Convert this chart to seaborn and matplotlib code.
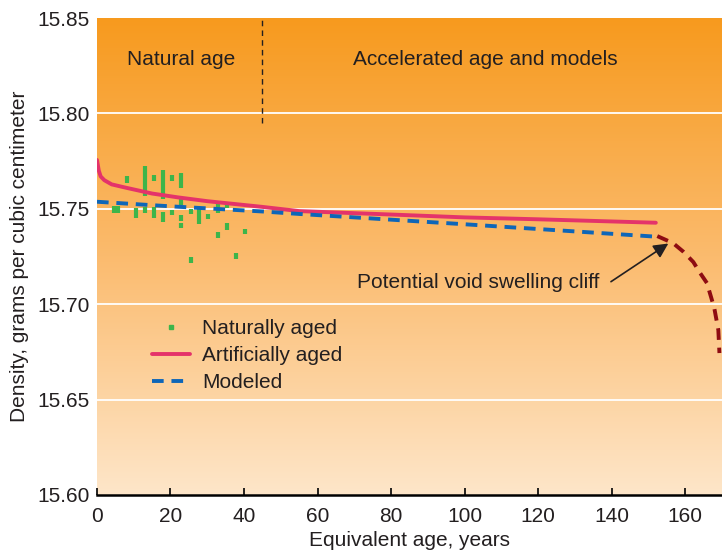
import numpy as np
import pandas as pd
import seaborn as sns
import matplotlib.pyplot as plt
from matplotlib.colors import LinearSegmentedColormap
from matplotlib.lines import Line2D

# ---------------------------------------------------------------
# Data
# ---------------------------------------------------------------
# naturally aged samples: vertical bars (age, low density, high density)
naturalAge = [4.6, 5.8, 8.1, 10.5, 13.1, 13.1, 15.5, 15.5, 18.0, 18.0, 20.3, 20.3,
              22.9, 22.9, 22.9, 22.9, 25.5, 25.5, 27.8, 30.2, 32.8, 32.8, 35.3, 35.3,
              37.7, 40.3]
naturalLow = [15.748, 15.748, 15.7635, 15.7452, 15.7567, 15.7478, 15.7646, 15.7452,
              15.7551, 15.7431, 15.7646, 15.7468, 15.7609, 15.7520, 15.7436, 15.7399,
              15.7473, 15.7216, 15.7420, 15.7447, 15.7478, 15.7347, 15.7504, 15.7389,
              15.7237, 15.7368]
naturalHigh = [15.7515, 15.7515, 15.7672, 15.7504, 15.7724, 15.7509, 15.7677, 15.7509,
               15.7703, 15.7483, 15.7677, 15.7494, 15.7688, 15.7557, 15.7468, 15.7426,
               15.7499, 15.7247, 15.7509, 15.7473, 15.7536, 15.7378, 15.7525, 15.7426,
               15.7268, 15.7394]

# artificially aged curve
artificialAge = [0, 0.5, 1, 2, 4, 8, 15, 22, 30, 45, 55, 80, 100, 120, 152]
artificialDensity = [15.7756, 15.770, 15.767, 15.765, 15.7628, 15.761, 15.758, 15.756,
                     15.754, 15.751, 15.7488, 15.747, 15.7455, 15.7445, 15.7427]

# modeled curve
modeledAge = [0, 20, 45, 55, 100, 152]
modeledDensity = [15.7537, 15.7513, 15.7486, 15.7473, 15.7419, 15.7354]

# potential void swelling cliff
cliffAge = [152.4, 156.7, 159.5, 162.2, 164.1, 165.9, 167.9, 169.0, 169.3]
cliffDensity = [15.7357, 15.7320, 15.7275, 15.7221, 15.7162, 15.7111, 15.6980, 15.6865, 15.6744]

yTicks = [15.60, 15.65, 15.70, 15.75, 15.80, 15.85]
xTicks = [0, 20, 40, 60, 80, 100, 120, 140, 160]

pinkColor = '#E4336A'
blueColor = '#0E66B8'
cliffColor = '#8E0C12'
greenColor = '#3DB54A'
textColor = '#231F20'
fontSize = 15

##################################################################
# Figure setup
##################################################################
sns.set_theme(style='white')
plt.rcParams['font.family'] = ['Liberation Sans', 'DejaVu Sans']
plt.rcParams['text.color'] = textColor

fig = plt.figure(figsize=(7.22, 5.54), dpi=100)
ax = fig.add_axes([0.1343, 0.1065, 0.8657, 0.861])
ax.set_xlim(0, 170)
ax.set_ylim(15.60, 15.85)

# orange gradient background
gradientMap = LinearSegmentedColormap.from_list(
    'bg', [(0.0, '#FEE6C9'), (0.5, '#FBBB6E'), (1.0, '#F79A1E')])
gradient = np.linspace(0, 1, 256).reshape(-1, 1)
ax.imshow(gradient, extent=[0, 170, 15.60, 15.85], origin='lower', aspect='auto',
          cmap=gradientMap, zorder=0)

# white horizontal gridlines
for level in yTicks[1:-1]:
    ax.axhline(level, color='white', lw=1.3, zorder=1)

# region separator and labels
ax.vlines(45, 15.795, 15.85, colors=textColor, linestyles=(0, (4, 3)), lw=1, zorder=2)
ax.text(23, 15.8285, 'Natural age', ha='center', va='center', fontsize=fontSize)
ax.text(105.6, 15.8285, 'Accelerated age and models', ha='center', va='center',
        fontsize=fontSize)

##################################################################
# Data marks
##################################################################
ax.vlines(naturalAge, naturalLow, naturalHigh, colors=greenColor, lw=3, zorder=3)

sns.lineplot(x=artificialAge, y=artificialDensity, ax=ax, color=pinkColor, lw=2.8,
             zorder=4)
sns.lineplot(x=modeledAge, y=modeledDensity, ax=ax, color=blueColor, lw=2.8,
             linestyle=(0, (3, 2)), zorder=5)
sns.lineplot(x=cliffAge, y=cliffDensity, ax=ax, color=cliffColor, lw=2.8,
             linestyle=(0, (3, 2)), zorder=5)

# cliff annotation
ax.text(103.7, 15.7116, 'Potential void swelling cliff', ha='center', va='center',
        fontsize=fontSize)
ax.annotate('', xy=(155.4, 15.7318), xytext=(139.8, 15.7118),
            arrowprops=dict(arrowstyle='-|>', color=textColor, lw=1.2,
                            mutation_scale=22, shrinkA=0, shrinkB=0), zorder=6)

##################################################################
# Legend
##################################################################
legendHandles = [
    Line2D([], [], ls='none', marker='s', markersize=3.5, color=greenColor),
    Line2D([], [], color=pinkColor, lw=2.8),
    Line2D([], [], color=blueColor, lw=2.8, ls=(0, (3, 2))),
]
ax.legend(legendHandles, ['Naturally aged', 'Artificially aged', 'Modeled'],
          loc='upper left', bbox_to_anchor=(0.075, 0.386), frameon=False,
          fontsize=fontSize, handlelength=1.8, handletextpad=0.6, labelspacing=0.38,
          borderaxespad=0)

##################################################################
# Axes styling
##################################################################
for side in ['left', 'top', 'right']:
    ax.spines[side].set_visible(False)
ax.spines['bottom'].set_color('black')
ax.spines['bottom'].set_linewidth(1.8)
ax.spines['bottom'].set_zorder(7)

ax.set_xticks(xTicks)
ax.set_yticks(yTicks)
ax.set_yticklabels([f'{t:.2f}' for t in yTicks])
ax.tick_params(axis='x', direction='in', length=5, width=1.2, color='black',
               labelsize=fontSize, labelcolor=textColor, pad=9, bottom=True)
ax.tick_params(axis='y', length=0, labelsize=fontSize, labelcolor=textColor, pad=5)
ax.set_xlabel('Equivalent age, years', fontsize=fontSize, color=textColor, labelpad=3)
ax.set_ylabel('Density, grams per cubic centimeter', fontsize=fontSize, color=textColor,
              labelpad=6)

fig.savefig('out.png', dpi=100)
